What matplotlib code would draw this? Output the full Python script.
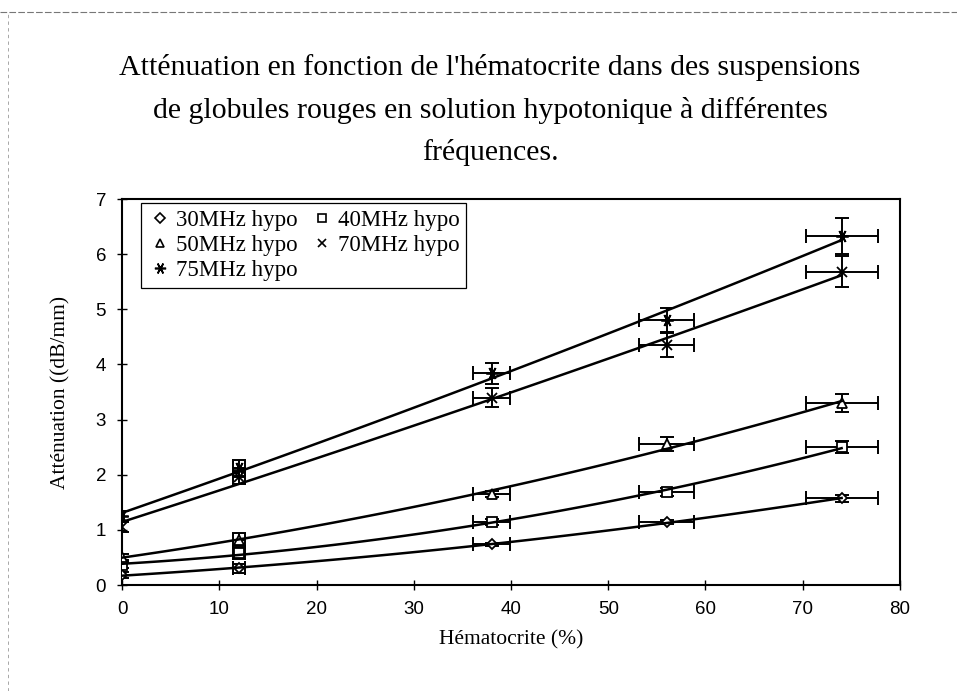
import numpy as np
import matplotlib
matplotlib.use("Agg")
import matplotlib.pyplot as plt
from matplotlib.lines import Line2D

# ---- data ----
hematocrite = [0, 12, 38, 56, 74]
hematocrite_err = [0.0, 0.6, 1.9, 2.8, 3.7]

series_names = ["30MHz hypo", "40MHz hypo", "50MHz hypo", "70MHz hypo", "75MHz hypo"]
att_30 = [0.18, 0.30, 0.74, 1.14, 1.57]
att_40 = [0.36, 0.58, 1.14, 1.69, 2.50]
att_50 = [0.51, 0.82, 1.65, 2.56, 3.30]
att_70 = [1.06, 1.95, 3.40, 4.35, 5.68]
att_75 = [1.25, 2.12, 3.84, 4.80, 6.33]
err_30 = [0.05, 0.08, 0.03, 0.04, 0.07]
err_40 = [0.06, 0.10, 0.06, 0.07, 0.11]
err_50 = [0.06, 0.12, 0.05, 0.13, 0.16]
err_70 = [0.10, 0.12, 0.17, 0.22, 0.28]
err_75 = [0.10, 0.15, 0.19, 0.22, 0.33]

values = [att_30, att_40, att_50, att_70, att_75]
errors = [err_30, err_40, err_50, err_70, err_75]
markers = ["D", "s", "^", "x", (6, 2, 90)]
msizes = [5.5, 6.5, 6.5, 7, 9]

serif = ["Liberation Serif", "DejaVu Serif"]
sans = ["Liberation Sans", "DejaVu Sans"]

fig = plt.figure(figsize=(9.57, 6.91), dpi=100)
ax = fig.add_axes([0.1275, 0.1534, 0.8129, 0.5586])

x = np.array(hematocrite, dtype=float)
for name, v, e, m, ms in zip(series_names, values, errors, markers, msizes):
    v = np.array(v)
    filled = (m == "x") or isinstance(m, tuple)
    ax.errorbar(x, v, yerr=e, xerr=hematocrite_err, fmt="none", ecolor="black",
                elinewidth=1.4, capsize=5, capthick=1.4, zorder=2)
    ax.plot(x, v, linestyle="none", marker=m, markersize=ms,
            markerfacecolor="black" if filled else "white",
            markeredgecolor="black", markeredgewidth=1.3, zorder=3)
    coef = np.polyfit(x, v, 2)
    xs = np.linspace(x.min(), x.max(), 100)
    ax.plot(xs, np.polyval(coef, xs), color="black", linewidth=1.8, zorder=4)

ax.set_xlim(0, 80)
ax.set_ylim(0, 7)
ax.set_xticks(np.arange(0, 81, 10))
ax.set_yticks(np.arange(0, 8, 1))
ax.tick_params(direction="inout", length=7, width=1, labelsize=13.5, pad=8)
for lab in ax.get_xticklabels() + ax.get_yticklabels():
    lab.set_family(sans)
for sp in ax.spines.values():
    sp.set_linewidth(1.5)
    sp.set_color("black")

ax.set_xlabel("Hématocrite (%)", family=serif, fontsize=15.5, labelpad=9)
ax.set_ylabel("Atténuation ((dB/mm)", family=serif, fontsize=15.5, labelpad=18)

fig.text(0.512, 1 - 110 / 691,
         "Atténuation en fonction de l'hématocrite dans des suspensions\n"
         "de globules rouges en solution hypotonique à différentes\n"
         "fréquences.", ha="center", va="center", family=serif, fontsize=21.5,
         linespacing=1.72)

handles = []
for name, m, ms in zip(series_names, markers, msizes):
    filled = (m == "x") or isinstance(m, tuple)
    handles.append(Line2D([], [], linestyle="none", marker=m, markersize=ms * 0.9,
                          markerfacecolor="black" if filled else "white",
                          markeredgecolor="black", markeredgewidth=1.2, label=name))
# row-major order in the original legend: reorder for matplotlib's column filling
order = [0, 2, 4, 1, 3]
leg = ax.legend(handles=[handles[i] for i in order], loc="upper left",
                bbox_to_anchor=(0.025, 0.99),
                ncol=2, prop={"family": serif, "size": 16.5}, frameon=True,
                fancybox=False, edgecolor="black", framealpha=1,
                handletextpad=0.2, columnspacing=0.55, borderpad=0.3,
                labelspacing=0.18, handlelength=1.0, borderaxespad=0)
leg.get_frame().set_linewidth(0.9)

# faint outer frame of the scanned page
fig.add_artist(Line2D([0, 1], [1 - 12 / 691, 1 - 12 / 691], color="#777777",
                      linewidth=0.8, linestyle=(0, (6, 2))))
fig.add_artist(Line2D([8 / 957, 8 / 957], [0, 1 - 12 / 691], color="#999999",
                      linewidth=0.6, linestyle=(0, (4, 4))))

fig.savefig("out.png", dpi=100)
